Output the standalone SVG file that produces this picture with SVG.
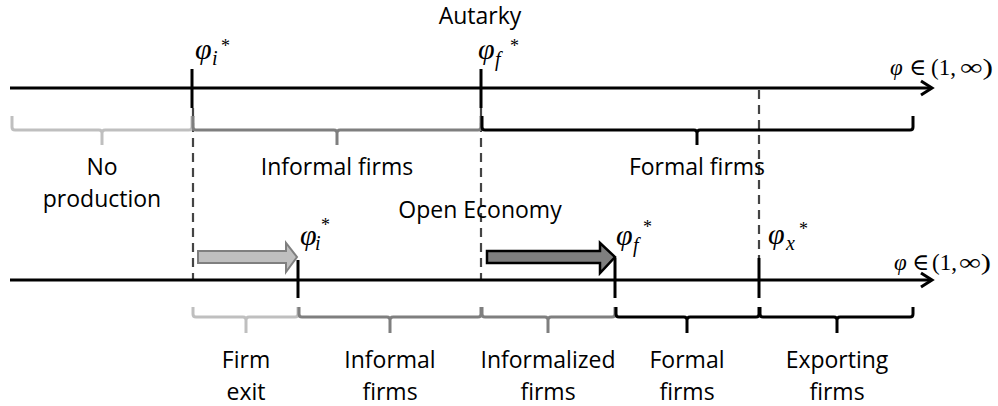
<svg xmlns="http://www.w3.org/2000/svg" width="998" height="406" viewBox="0 0 998 406">
<style>
.lbl{font-family:"Open Sans","Liberation Sans",sans-serif;font-size:23px;fill:#000;text-anchor:middle}
.ax{stroke:#000;stroke-width:3;fill:none}
.tick{stroke:#000;stroke-width:3}
.dash{stroke:#444;stroke-width:2.2;stroke-dasharray:9 6;fill:none}
.br{fill:none;stroke-width:3;stroke-linejoin:round;stroke-linecap:butt}
.light{stroke:#bfbfbf}
.mid{stroke:#7f7f7f}
.blk{stroke:#000}
.m{font-family:"Liberation Serif","DejaVu Serif",serif;font-style:italic;fill:#000}
.mu{font-family:"Liberation Serif","DejaVu Serif",serif;fill:#000}
.phi{font-size:30px}
.sub{font-size:20px}
.star{font-size:18px}
.dom{font-size:23px}
</style>
<rect width="998" height="406" fill="#fff"/>
<g id="connectors">
  <line class="dash" x1="193" y1="108" x2="193" y2="280"/>
  <line class="dash" x1="481" y1="108" x2="481" y2="280"/>
  <line class="dash" x1="759" y1="90" x2="759" y2="258"/>
</g>
<g id="axis-autarky">
  <line class="ax" x1="10" y1="88" x2="931" y2="88"/>
  <polyline class="ax" points="921,81 932,88 921,95"/>
  <line class="tick" x1="192" y1="69" x2="192" y2="108"/>
  <line class="tick" x1="481" y1="69" x2="481" y2="108"/>
  <text class="m dom" x="890" y="75">φ</text>
  <text class="mu dom" x="909" y="75">∈</text>
  <text class="mu dom" x="931" y="75">(1,</text>
  <text class="mu dom" x="960" y="75" textLength="33" lengthAdjust="spacingAndGlyphs">∞)</text>
</g>
<g id="axis-open">
  <line class="ax" x1="10" y1="280" x2="931" y2="280"/>
  <polyline class="ax" points="921,273 932,280 921,287"/>
  <line class="tick" x1="298" y1="260" x2="298" y2="298"/>
  <line class="tick" x1="615" y1="258" x2="615" y2="298"/>
  <line class="tick" x1="759" y1="258" x2="759" y2="298"/>
  <text class="m dom" x="894" y="270">φ</text>
  <text class="mu dom" x="912" y="270">∈</text>
  <text class="mu dom" x="932" y="270">(1,</text>
  <text class="mu dom" x="959" y="270" textLength="32" lengthAdjust="spacingAndGlyphs">∞)</text>
</g>
<g id="titles">
  <text class="lbl" x="480" y="24">Autarky</text>
  <text class="lbl" x="480" y="218">Open Economy</text>
</g>
<g id="thresholds">
  <g id="phi-i-autarky"><text class="m phi" x="195" y="59">φ</text><text class="m sub" x="212" y="65">i</text><text class="mu star" x="221" y="52">*</text></g>
  <g id="phi-f-autarky"><text class="m phi" x="478" y="59">φ</text><text class="m sub" x="495" y="66">f</text><text class="mu star" x="510" y="52">*</text></g>
  <g id="phi-i-open"><text class="m phi" x="300" y="245">φ</text><text class="m sub" x="315" y="250">i</text><text class="mu star" x="321" y="231">*</text></g>
  <g id="phi-f-open"><text class="m phi" x="616" y="245">φ</text><text class="m sub" x="633" y="252">f</text><text class="mu star" x="643" y="233">*</text></g>
  <g id="phi-x-open"><text class="m phi" x="768" y="244">φ</text><text class="m sub" x="786" y="250">x</text><text class="mu star" x="799" y="235">*</text></g>
</g>
<g id="shift-arrows">
  <polygon points="198,251 286,251 286,243 297,257 286,272 286,263 198,263" fill="#bfbfbf" stroke="#7f7f7f" stroke-width="2"/>
  <polygon points="487,251 600,251 600,243 615,257 600,273 600,263 487,263" fill="#7f7f7f" stroke="#000" stroke-width="2.5"/>
</g>
<g id="no-production">
  <path class="br light" d="M12,116 V127 Q12,130 15,130 H99 Q102,130 102,133 V145 M102,133 Q102,130 105,130 H189 Q192,130 192,127 V116"/>
  <text class="lbl" x="102" y="175">No</text>
  <text class="lbl" x="102" y="207">production</text>
</g>
<g id="informal-autarky">
  <path class="br mid" d="M193,116 V127 Q193,130 196,130 H334 Q337,130 337,133 V145 M337,133 Q337,130 340,130 H478 Q481,130 481,127 V116"/>
  <text class="lbl" x="337" y="175">Informal firms</text>
</g>
<g id="formal-autarky">
  <path class="br blk" d="M482,116 V127 Q482,130 485,130 H694 Q697,130 697,133 V145 M697,133 Q697,130 700,130 H910 Q913,130 913,127 V116"/>
  <text class="lbl" x="697" y="175">Formal firms</text>
</g>
<g id="firm-exit">
  <path class="br light" d="M193,307 V314 Q193,317 196,317 H243 Q246,317 246,320 V333 M246,320 Q246,317 249,317 H295 Q298,317 298,314 V307"/>
  <text class="lbl" x="246" y="368">Firm</text>
  <text class="lbl" x="246" y="400">exit</text>
</g>
<g id="informal-open">
  <path class="br mid" d="M299,307 V314 Q299,317 302,317 H387 Q390,317 390,320 V333 M390,320 Q390,317 393,317 H478 Q481,317 481,314 V307"/>
  <text class="lbl" x="390" y="368">Informal</text>
  <text class="lbl" x="390" y="400">firms</text>
</g>
<g id="informalized">
  <path class="br mid" d="M482,307 V314 Q482,317 485,317 H545 Q548,317 548,320 V333 M548,320 Q548,317 551,317 H612 Q615,317 615,314 V307"/>
  <text class="lbl" x="548" y="368">Informalized</text>
  <text class="lbl" x="548" y="400">firms</text>
</g>
<g id="formal-open">
  <path class="br blk" d="M616,307 V314 Q616,317 619,317 H684 Q687,317 687,320 V333 M687,320 Q687,317 690,317 H756 Q759,317 759,314 V307"/>
  <text class="lbl" x="687" y="368">Formal</text>
  <text class="lbl" x="687" y="400">firms</text>
</g>
<g id="exporting">
  <path class="br blk" d="M760,307 V314 Q760,317 763,317 H834 Q837,317 837,320 V333 M837,320 Q837,317 840,317 H910 Q913,317 913,314 V307"/>
  <text class="lbl" x="837" y="368">Exporting</text>
  <text class="lbl" x="837" y="400">firms</text>
</g>
</svg>
